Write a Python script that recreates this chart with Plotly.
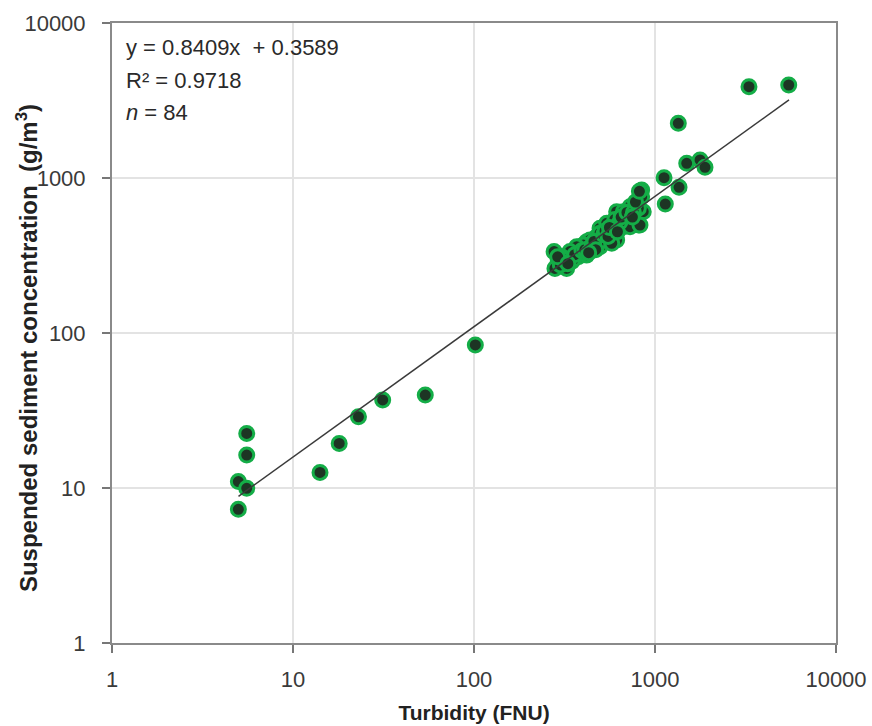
import plotly.graph_objects as go
import numpy as np

# Turbidity (FNU) and suspended sediment concentration (g/m3)
turbidity_low = [5.55, 5.55, 4.99, 5.55, 4.99, 14.1, 18.0, 23.0, 31.3, 53.8, 101.7]
ssc_low = [22.5, 16.3, 11.0, 9.96, 7.29, 12.6, 19.4, 28.8, 37.0, 39.8, 83.7]

turbidity_cluster = [277, 292, 280, 325, 347, 385, 419, 419, 476, 497, 497, 564, 614, 614,
                     697, 809, 844, 861, 728, 377, 437, 518, 541, 668, 844, 809, 728, 826,
                     668, 497, 437, 402, 369, 339, 385, 486, 577, 305, 300, 310, 355, 360,
                     395, 410, 450, 460, 470, 520, 530, 550, 590, 600, 640, 650, 700, 760,
                     780, 820, 290, 330, 430, 560, 620, 750]
ssc_cluster = [335, 289, 261, 261, 289, 360, 388, 318, 418, 474, 360, 462, 398, 606,
               562, 497, 837, 606, 653, 310, 352, 405, 510, 485, 758, 638, 485, 497,
               606, 440, 398, 370, 360, 335, 327, 379, 379, 310, 275, 300, 300, 320,
               340, 345, 370, 390, 345, 430, 455, 420, 500, 540, 520, 560, 600, 600,
               700, 820, 310, 280, 330, 480, 450, 560]

turbidity_high = [3305, 5480, 1345, 1497, 1774, 1889, 1122, 1358, 1140]
ssc_high = [3882, 3981, 2254, 1244, 1307, 1172, 1005, 871, 679]

turbidity = turbidity_low + turbidity_cluster + turbidity_high
ssc = ssc_low + ssc_cluster + ssc_high

slope = 0.8409
intercept = 0.3589
fit_x = [5.0, 5500.0]

tick_vals = [1, 10, 100, 1000, 10000]
tick_text = ["1", "10", "100", "1000", "10000"]

fit_y = [10 ** (slope * np.log10(v) + intercept) for v in fit_x]

fig = go.Figure()
fig.add_trace(go.Scatter(
    x=turbidity, y=ssc, mode="markers",
    marker=dict(size=14, color="#1d3524", line=dict(color="#14ad47", width=3)),
    showlegend=False,
))
fig.add_trace(go.Scatter(
    x=fit_x, y=fit_y, mode="lines",
    line=dict(color="#3a3a3a", width=1.5), showlegend=False,
))

font_family = "Liberation Sans, Arial, sans-serif"
axis_common = dict(
    type="log", range=[0, 4], tickvals=tick_vals, ticktext=tick_text,
    showgrid=True, gridcolor="#e3e3e3", gridwidth=1.5,
    showline=True, linecolor="#8a8a8a", linewidth=2, mirror=True,
    ticks="outside", ticklen=8, tickcolor="#777", tickwidth=1.5,
    tickfont=dict(family=font_family, size=22, color="#3a3a3a"),
    zeroline=False, automargin=False,
)

fig.update_layout(
    width=872, height=726,
    margin=dict(l=112, r=36, t=23, b=83),
    paper_bgcolor="white", plot_bgcolor="white",
    font=dict(family=font_family),
    xaxis=dict(**axis_common, ticklabelstandoff=8,
               title=dict(text="<b>Turbidity (FNU)</b>", standoff=14,
                          font=dict(family=font_family, size=21, color="#222"))),
    yaxis=dict(**axis_common, ticklabelstandoff=12),
)

fig.add_annotation(x=-0.118, y=0.475, xref="paper", yref="paper", xanchor="center", yanchor="middle",
                   text="<b>Suspended sediment concentration  (g/m<sup>3</sup>)</b>", textangle=-90,
                   showarrow=False, font=dict(family=font_family, size=24, color="#222"))

ann_font = dict(family=font_family, size=22, color="#2a2a2a")
fig.add_annotation(x=0.0166, y=0.961, xref="paper", yref="paper", xanchor="left", yanchor="middle",
                   text="y = 0.8409x  + 0.3589", showarrow=False, font=ann_font)
fig.add_annotation(x=0.0166, y=0.908, xref="paper", yref="paper", xanchor="left", yanchor="middle",
                   text="R² = 0.9718", showarrow=False, font=ann_font)
fig.add_annotation(x=0.0166, y=0.856, xref="paper", yref="paper", xanchor="left", yanchor="middle",
                   text="<i>n</i> = 84", showarrow=False, font=ann_font)

fig.write_html("out.html")
